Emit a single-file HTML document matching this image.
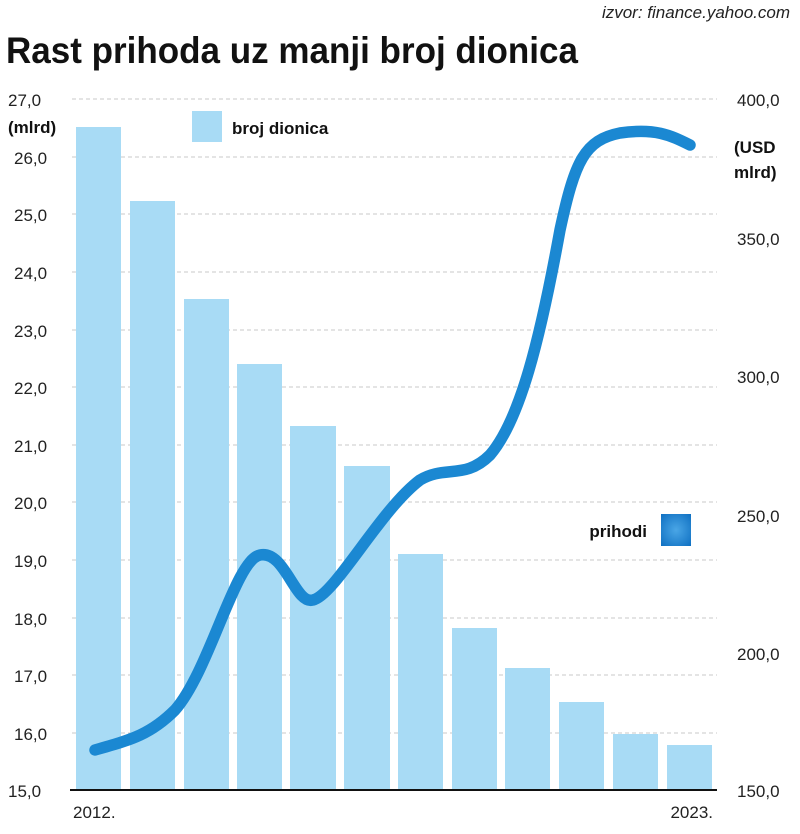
<!DOCTYPE html>
<html><head><meta charset="utf-8"><style>
body{margin:0;background:#fff;width:800px;height:829px;overflow:hidden;font-family:"Liberation Sans",sans-serif}
</style></head><body>
<svg width="800" height="829" xmlns="http://www.w3.org/2000/svg" font-family="Liberation Sans, sans-serif">
<defs><radialGradient id="g" cx="50%" cy="50%" r="70%"><stop offset="0" stop-color="#4aa6e6"/><stop offset="1" stop-color="#0f70c2"/></radialGradient></defs>
<text x="790" y="18" font-size="17" font-style="italic" text-anchor="end" fill="#222">izvor: finance.yahoo.com</text>
<text x="6" y="63" font-size="37" font-weight="bold" fill="#111" textLength="572" lengthAdjust="spacingAndGlyphs">Rast prihoda uz manji broj dionica</text>
<g stroke="#c8c8c8" stroke-dasharray="4,3" stroke-width="1">
<line x1="72" y1="99" x2="717" y2="99"/><line x1="72" y1="157" x2="717" y2="157"/><line x1="72" y1="214" x2="717" y2="214"/><line x1="72" y1="272" x2="717" y2="272"/><line x1="72" y1="330" x2="717" y2="330"/><line x1="72" y1="387" x2="717" y2="387"/><line x1="72" y1="445" x2="717" y2="445"/><line x1="72" y1="502" x2="717" y2="502"/><line x1="72" y1="560" x2="717" y2="560"/><line x1="72" y1="618" x2="717" y2="618"/><line x1="72" y1="675" x2="717" y2="675"/><line x1="72" y1="733" x2="717" y2="733"/>
</g>
<g fill="#a8dbf5">
<rect x="76" y="127" width="45" height="663"/><rect x="130" y="201" width="45" height="589"/><rect x="184" y="299" width="45" height="491"/><rect x="237" y="364" width="45" height="426"/><rect x="290" y="426" width="46" height="364"/><rect x="344" y="466" width="46" height="324"/><rect x="398" y="554" width="45" height="236"/><rect x="452" y="628" width="45" height="162"/><rect x="505" y="668" width="45" height="122"/><rect x="559" y="702" width="45" height="88"/><rect x="613" y="734" width="45" height="56"/><rect x="667" y="745" width="45" height="45"/>
</g>
<line x1="70" y1="790" x2="717" y2="790" stroke="#111" stroke-width="2"/>
<path d="M95,750 C130,740 150,735 175,710 C210,670 235,560 260,555 C285,550 295,605 313,600 C335,595 380,510 420,480 C445,465 465,480 490,455 C520,420 540,340 560,230 C575,160 585,140 620,133 C655,128 670,135 690,145" fill="none" stroke="#1b88d2" stroke-width="11.5" stroke-linecap="round"/>
<g font-size="17" fill="#222">
<text x="8" y="106">27,0</text><text x="14" y="164">26,0</text><text x="14" y="221">25,0</text><text x="14" y="279">24,0</text><text x="14" y="337">23,0</text><text x="14" y="394">22,0</text><text x="14" y="452">21,0</text><text x="14" y="509">20,0</text><text x="14" y="567">19,0</text><text x="14" y="625">18,0</text><text x="14" y="682">17,0</text><text x="14" y="740">16,0</text><text x="8" y="797">15,0</text>
<text x="737" y="106">400,0</text><text x="737" y="245">350,0</text><text x="737" y="383">300,0</text><text x="737" y="522">250,0</text><text x="737" y="660">200,0</text><text x="737" y="797">150,0</text>
<text x="73" y="818">2012.</text><text x="713" y="818" text-anchor="end">2023.</text>
</g>
<g font-size="17" font-weight="bold" fill="#111">
<text x="8" y="133">(mlrd)</text>
<text x="734" y="153">(USD</text><text x="734" y="178">mlrd)</text>
<text x="232" y="134">broj dionica</text>
<text x="647" y="537" text-anchor="end">prihodi</text>
</g>
<rect x="192" y="111" width="30" height="31" fill="#a8dbf5"/>
<rect x="661" y="514" width="30" height="32" fill="url(#g)"/>
</svg>
</body></html>
